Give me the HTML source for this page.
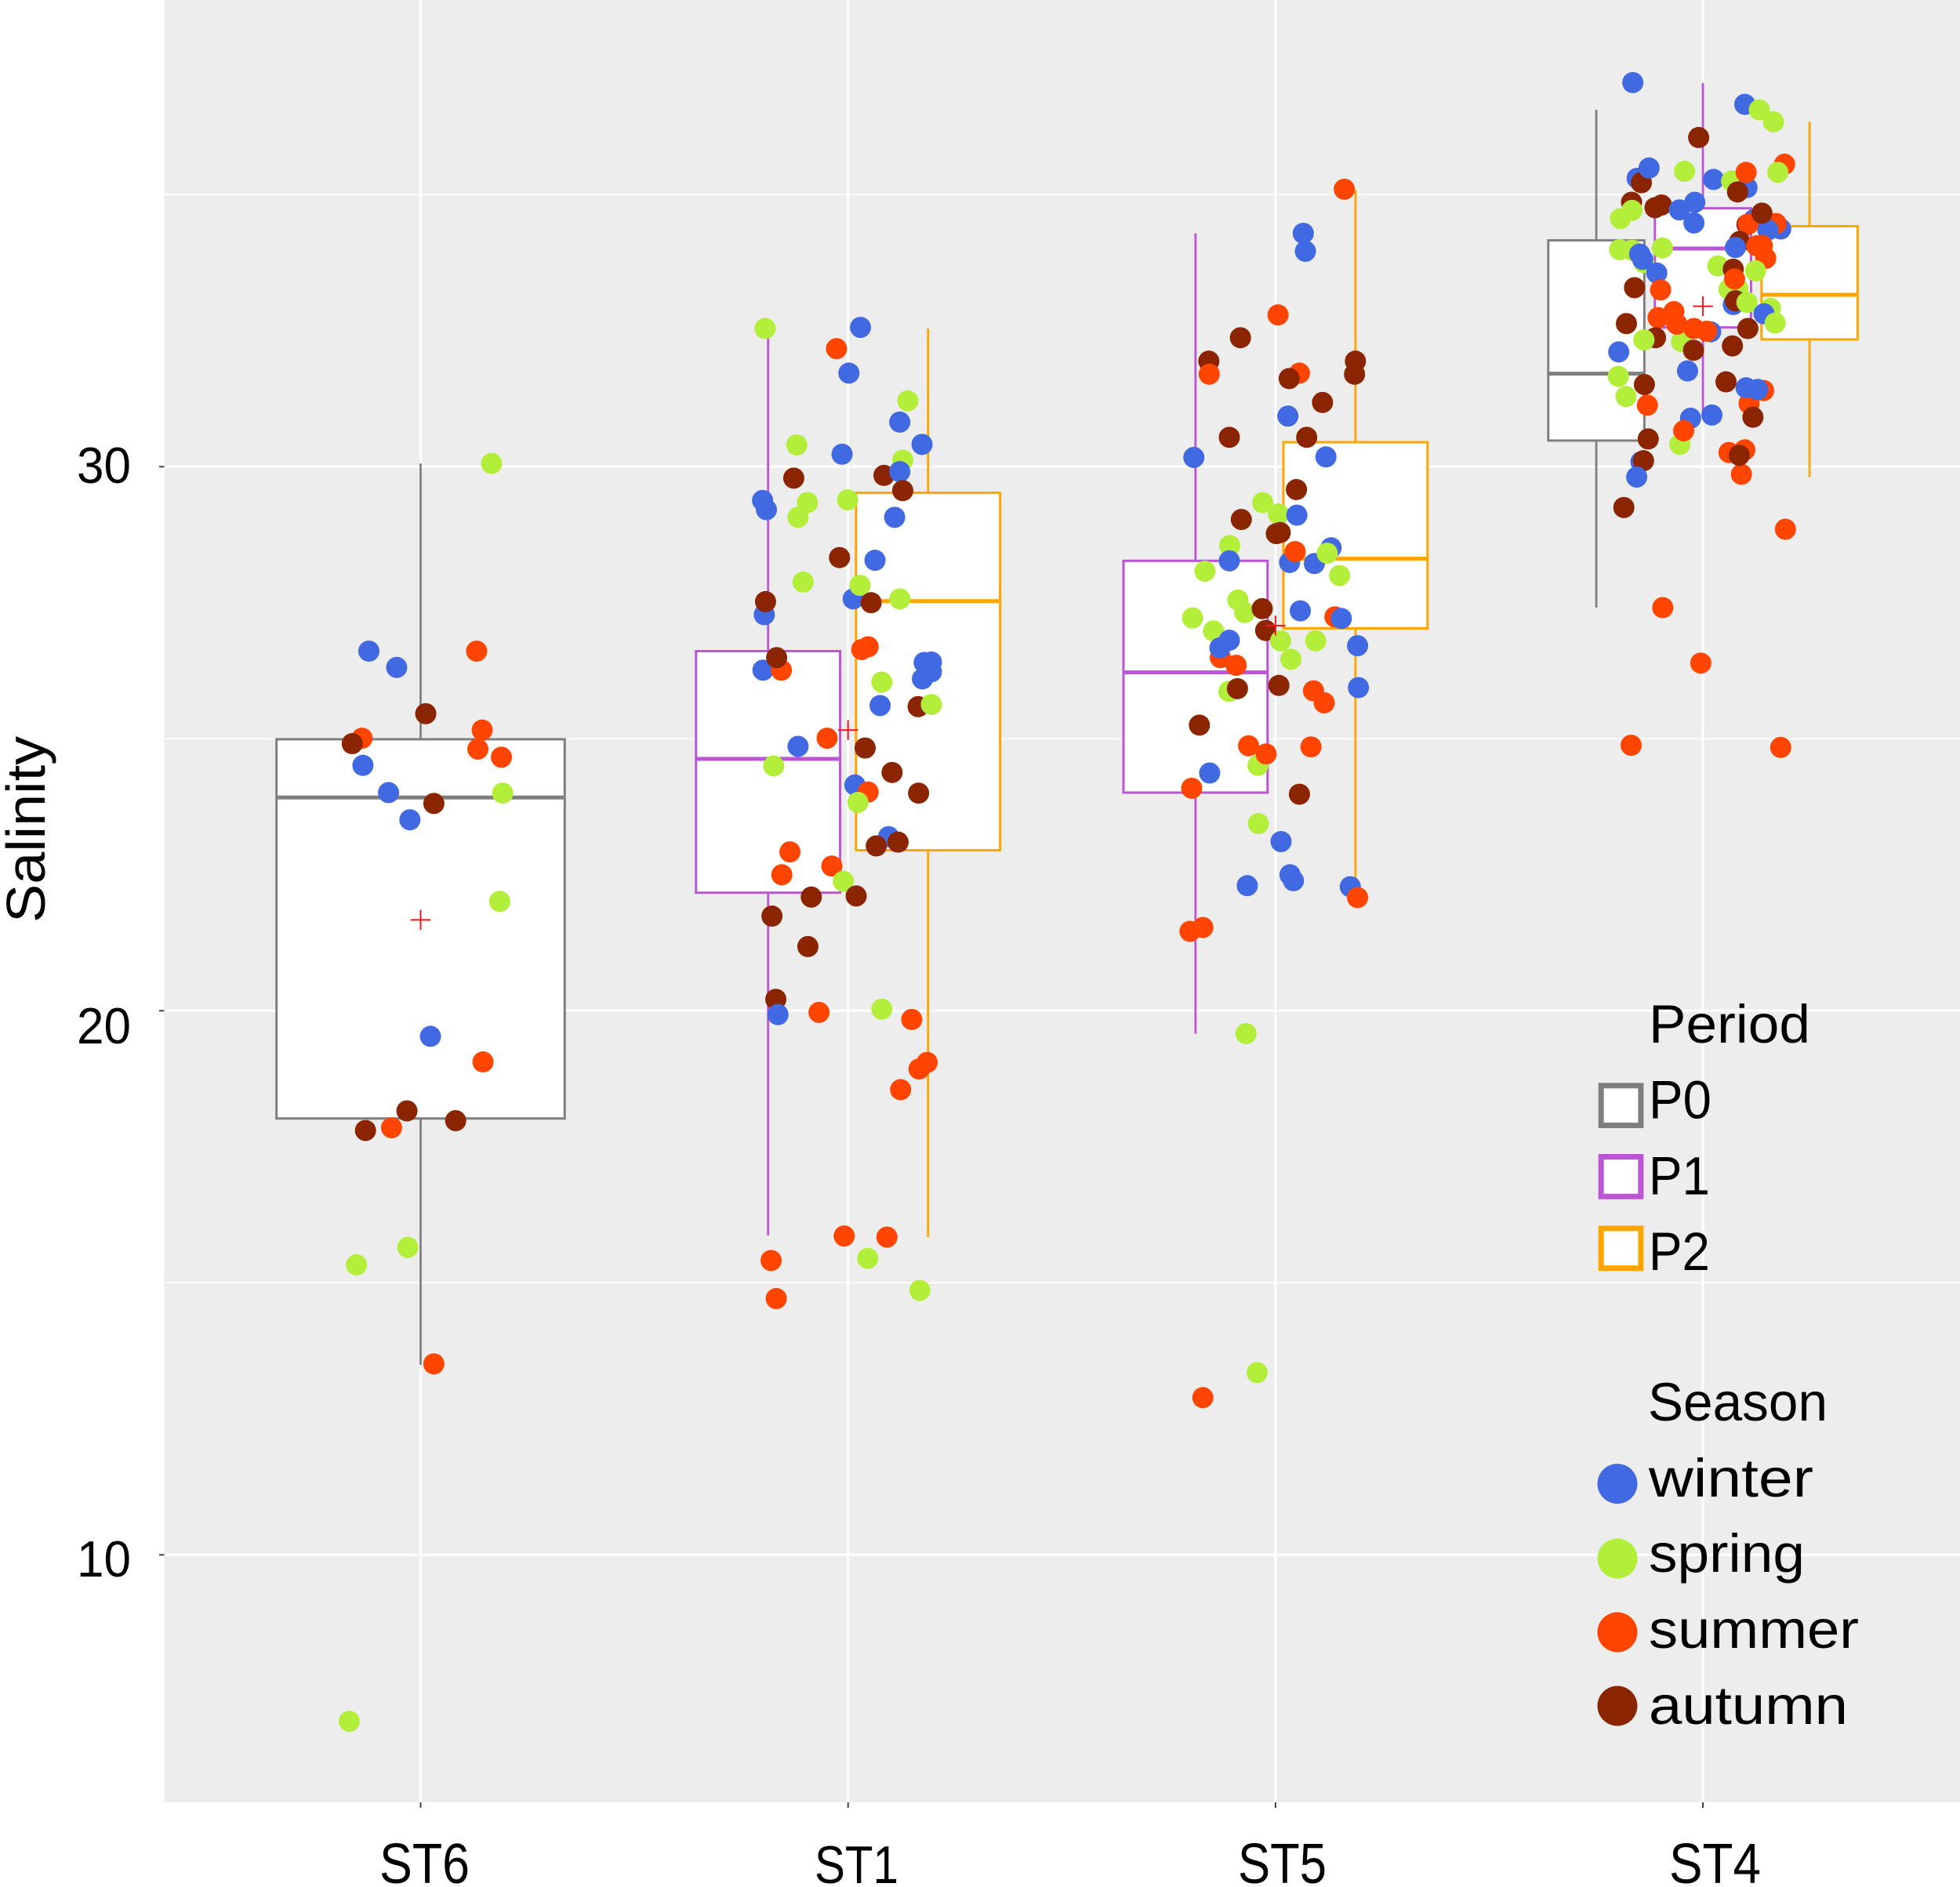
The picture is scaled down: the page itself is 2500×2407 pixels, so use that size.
<!DOCTYPE html>
<html lang="en">
<head>
<meta charset="utf-8">
<title>Salinity by station, period and season</title>
<style>
html,body{margin:0;padding:0;background:#fff;}
svg{display:block;}
text{font-family:"Liberation Sans",sans-serif;fill:#000;}
</style>
</head>
<body>
<svg id="chart" xmlns="http://www.w3.org/2000/svg" width="2500" height="2407" viewBox="0 0 2500 2407">
  <rect x="209.5" y="0" width="2290.5" height="2299" fill="#ededed"/>
  <g id="grid"></g>
  <g id="ticks"></g>
  <g id="boxes"></g>
  <g id="points"></g>
  <g id="means"></g>

  <text transform="translate(57 1058) rotate(-90)" text-anchor="middle" font-size="70" textLength="238" lengthAdjust="spacingAndGlyphs">Salinity</text>
  <text x="98" y="616" font-size="65" textLength="69" lengthAdjust="spacingAndGlyphs">30</text>
  <text x="98" y="1331" font-size="65" textLength="69" lengthAdjust="spacingAndGlyphs">20</text>
  <text x="98" y="2011" font-size="65" textLength="69" lengthAdjust="spacingAndGlyphs">10</text>
  <text x="484" y="2402" font-size="72" textLength="115" lengthAdjust="spacingAndGlyphs">ST6</text>
  <text x="1039" y="2402" font-size="68" textLength="107" lengthAdjust="spacingAndGlyphs">ST1</text>
  <text x="1579" y="2402" font-size="72" textLength="113" lengthAdjust="spacingAndGlyphs">ST5</text>
  <text x="2129" y="2402" font-size="72" textLength="117" lengthAdjust="spacingAndGlyphs">ST4</text>

  <g>
    <text x="2103" y="1330" font-size="69" textLength="206" lengthAdjust="spacingAndGlyphs">Period</text>
    <rect x="2042.2" y="1384.8" width="50.7" height="50.7" fill="#fff" stroke="#7f7f7f" stroke-width="7"/>
    <text x="2103" y="1426.7" font-size="69" textLength="80" lengthAdjust="spacingAndGlyphs">P0</text>
    <rect x="2042.2" y="1475.5" width="50.7" height="50.7" fill="#fff" stroke="#ba55d3" stroke-width="7"/>
    <text x="2103" y="1523.3" font-size="69" textLength="78" lengthAdjust="spacingAndGlyphs">P1</text>
    <rect x="2042.2" y="1566.9" width="50.7" height="50.7" fill="#fff" stroke="#ffa500" stroke-width="7"/>
    <text x="2103" y="1620" font-size="69" textLength="78" lengthAdjust="spacingAndGlyphs">P2</text>
  </g>

  <g>
    <text x="2102" y="1812" font-size="69" textLength="229" lengthAdjust="spacingAndGlyphs">Season</text>
    <circle cx="2063" cy="1892.6" r="25.5" fill="#4169e1"/>
    <text x="2103" y="1909" font-size="69" textLength="210" lengthAdjust="spacingAndGlyphs">winter</text>
    <circle cx="2063" cy="1988" r="25.5" fill="#b3ee3a"/>
    <text x="2103" y="2005" font-size="69" textLength="199" lengthAdjust="spacingAndGlyphs">spring</text>
    <circle cx="2063" cy="2082" r="25.5" fill="#ff4500"/>
    <text x="2103" y="2102" font-size="69" textLength="268" lengthAdjust="spacingAndGlyphs">summer</text>
    <circle cx="2063" cy="2176" r="25.5" fill="#8b2500"/>
    <text x="2103" y="2199" font-size="69" textLength="254" lengthAdjust="spacingAndGlyphs">autumn</text>
  </g>
</svg>

<script>
// Categories and axis ticks
const stations = ['ST6', 'ST1', 'ST5', 'ST4'];
const yMajorTicks = [10, 20, 30];
const yMinorTicks = [15, 25, 35];
const seasonNames = { w: 'winter', s: 'spring', u: 'summer', a: 'autumn' };

// Box statistics: [station index, whisker low, Q1, median, Q3, whisker high]
const p0Stats = [[0, 13.49, 18.02, 23.92, 24.99, 30.06], [3, 27.41, 30.48, 31.71, 34.16, 36.56]];
const p1Stats = [[1, 15.87, 22.17, 24.63, 26.61, 32.54], [2, 19.58, 24.01, 26.22, 28.27, 34.29], [3, 30.93, 32.56, 34.01, 34.75, 37.05]];
const p2Stats = [[1, 15.84, 22.95, 27.53, 29.52, 32.54], [2, 22.08, 27.03, 28.31, 30.45, 35.09], [3, 29.81, 32.34, 33.16, 34.42, 36.34]];

// Station means
const meanValues = [21.67, 25.16, 27.08, 32.95];

// Observations: [season, jitter in station widths, salinity]
const st6Points = [
['s',0.166,30.06],['w',-0.121,26.61],['w',-0.056,26.31],['u',0.131,26.61],['a',0.012,25.46],['u',0.144,25.16],
['u',0.134,24.81],['u',0.189,24.66],['u',-0.137,25.01],['a',-0.160,24.91],['w',-0.135,24.51],['w',-0.075,24.01],
['s',0.192,24.00],['w',-0.025,23.51],['a',0.031,23.81],['s',0.185,22.01],['w',0.023,19.53],['u',0.146,19.06],
['u',-0.068,17.85],['a',-0.032,18.16],['a',0.082,17.98],['a',-0.129,17.80],['s',-0.030,15.65],['s',-0.150,15.33],
['u',0.031,13.51],['s',-0.167,6.94]];

const st1Points = [
['s',-0.194,32.54],['w',0.029,32.56],['u',-0.027,32.17],['w',0.002,31.72],['s',0.140,31.21],['w',0.121,30.82],
['w',0.173,30.41],['s',-0.120,30.40],['w',-0.014,30.23],['s',0.128,30.12],['a',-0.127,29.79],['a',0.084,29.84],
['w',0.121,29.91],['a',0.128,29.56],['w',-0.200,29.38],['w',-0.191,29.21],['s',-0.095,29.34],['s',-0.117,29.07],
['s',-0.001,29.39],['w',0.109,29.07],['a',-0.020,28.33],['w',0.063,28.28],['s',-0.105,27.88],['w',0.012,27.57],
['s',0.028,27.82],['a',0.054,27.50],['s',0.121,27.57],['w',-0.196,27.28],['a',-0.193,27.52],['u',0.047,26.69],
['u',0.032,26.64],['w',-0.199,26.26],['u',-0.156,26.26],['a',-0.167,26.49],['w',0.178,26.40],['w',0.195,26.41],
['w',0.195,26.23],['w',0.174,26.10],['s',0.079,26.04],['w',0.075,25.61],['a',0.164,25.59],['s',0.195,25.63],
['u',-0.049,25.01],['w',-0.117,24.86],['a',0.040,24.83],['s',-0.174,24.50],['a',0.103,24.38],['w',0.016,24.15],
['u',0.047,24.02],['s',0.023,23.83],['a',0.165,24.00],['w',0.095,23.20],['a',0.066,23.03],['a',0.117,23.10],
['u',-0.136,22.92],['u',-0.155,22.50],['u',-0.038,22.66],['s',-0.011,22.38],['a',-0.086,22.09],['a',0.019,22.11],
['a',-0.178,21.74],['a',-0.094,21.18],['a',-0.169,20.21],['w',-0.164,19.93],['u',-0.068,19.97],['s',0.079,20.03],
['u',0.149,19.84],['u',0.166,18.93],['u',0.185,19.05],['u',0.123,18.55],['u',-0.009,15.86],['u',0.091,15.84],
['s',0.046,15.45],['u',-0.180,15.41],['u',-0.168,14.71],['s',0.168,14.86]];

const st5Points = [
['u',0.161,35.10],['w',0.065,34.29],['w',0.070,33.96],['u',0.006,32.79],['a',-0.082,32.37],['a',-0.156,31.94],
['u',-0.155,31.70],['u',0.056,31.72],['a',0.032,31.62],['a',0.187,31.94],['a',0.185,31.70],['a',0.110,31.18],
['w',0.029,30.93],['a',-0.108,30.54],['a',0.073,30.54],['w',0.118,30.18],['w',-0.191,30.17],['a',0.049,29.58],
['s',-0.030,29.34],['s',0.007,29.13],['w',0.050,29.11],['a',-0.080,29.03],['a',0.011,28.79],['a',0.002,28.77],
['s',-0.107,28.55],['w',-0.108,28.27],['w',0.033,28.24],['w',0.091,28.22],['w',0.130,28.51],['s',0.121,28.41],
['u',0.046,28.44],['s',0.150,28.00],['s',-0.165,28.08],['s',-0.088,27.55],['s',-0.072,27.32],['a',-0.031,27.39],
['w',0.058,27.35],['s',-0.194,27.22],['u',0.139,27.24],['w',0.154,27.21],['a',-0.023,26.99],['s',-0.145,26.98],
['s',0.012,26.80],['s',0.094,26.80],['w',0.192,26.71],['u',-0.129,26.49],['w',-0.108,26.81],['w',-0.130,26.67],
['u',-0.092,26.35],['s',0.036,26.46],['s',-0.109,25.87],['a',-0.089,25.92],['a',0.008,25.98],['u',0.089,25.88],
['u',0.114,25.66],['w',0.194,25.94],['a',-0.178,25.25],['s',-0.041,24.51],['u',-0.063,24.87],['u',-0.022,24.72],
['u',0.083,24.85],['w',-0.154,24.37],['u',-0.196,24.09],['a',0.056,23.98],['s',-0.040,23.44],['w',0.013,23.11],
['w',0.034,22.50],['w',0.042,22.39],['w',-0.066,22.30],['w',0.175,22.28],['u',0.192,22.08],['u',-0.170,21.53],
['u',-0.200,21.46],['s',-0.069,19.58],['s',-0.043,13.35],['u',-0.170,12.89]];

const st4Points = [
['w',-0.164,37.06],['w',0.098,36.66],['s',0.132,36.56],['s',0.165,36.34],['a',-0.010,36.05],['u',0.191,35.56],
['s',0.175,35.41],['w',-0.154,35.30],['a',-0.144,35.22],['w',-0.126,35.49],['s',-0.043,35.43],['w',0.025,35.28],
['s',0.067,35.25],['w',0.103,35.13],['u',0.101,35.41],['a',0.081,35.05],['a',-0.167,34.86],['s',-0.166,34.71],
['s',-0.193,34.56],['a',-0.112,34.76],['a',-0.097,34.81],['w',-0.055,34.72],['w',-0.019,34.86],['w',-0.021,34.48],
['w',0.182,34.37],['a',0.103,34.45],['u',0.171,34.47],['w',0.119,34.54],['u',0.106,34.46],['w',0.152,34.35],
['a',0.138,34.66],['a',0.086,34.14],['u',0.139,34.06],['w',0.076,34.03],['u',0.126,34.06],['u',0.147,33.83],
['s',-0.195,33.99],['s',-0.166,33.98],['s',-0.138,33.75],['w',-0.148,33.91],['w',-0.141,33.81],['s',-0.095,34.02],
['w',-0.108,33.56],['s',0.035,33.69],['s',0.061,33.26],['s',0.082,33.27],['a',0.071,33.63],['s',0.123,33.60],
['u',0.074,33.45],['a',-0.160,33.29],['u',-0.099,33.25],['w',0.071,32.98],['a',0.076,33.05],['s',0.103,33.02],
['s',0.158,32.91],['w',0.143,32.81],['s',0.169,32.64],['s',-0.050,32.30],['u',-0.105,32.74],['u',-0.068,32.85],
['u',-0.061,32.62],['w',0.018,32.48],['u',-0.021,32.54],['u',0.009,32.49],['a',-0.179,32.63],['a',0.105,32.54],
['a',-0.111,32.37],['s',-0.138,32.33],['a',-0.022,32.14],['a',0.069,32.22],['w',-0.197,32.11],['w',-0.036,31.76],
['s',-0.198,31.66],['a',-0.137,31.51],['s',-0.180,31.29],['u',-0.130,31.13],['a',0.054,31.56],['u',0.142,31.40],
['u',0.108,31.16],['w',0.101,31.45],['w',0.128,31.42],['a',0.117,30.91],['w',-0.029,30.89],['w',0.021,30.95],
['s',-0.054,30.41],['u',-0.045,30.66],['a',-0.128,30.51],['w',-0.145,30.09],['a',-0.139,30.11],['w',-0.155,29.81],
['u',0.061,30.26],['u',0.098,30.31],['u',0.090,29.86],['a',0.085,30.21],['a',-0.185,29.25],['u',0.193,28.85],
['u',-0.094,27.41],['u',-0.005,26.39],['u',-0.168,24.88],['u',0.182,24.84]];

const SVG_NS = 'http://www.w3.org/2000/svg';
const seasonColors = { w: '#4169e1', s: '#b3ee3a', u: '#ff4500', a: '#8b2500' };
const periodColors = { P0: '#7f7f7f', P1: '#ba55d3', P2: '#ffa500' };

function xScale(stationIndex) { return 536.5 + 545.2 * stationIndex; }
function yScale(salinity) { return 1289.3 - (salinity - 20) * 69.4; }

function make(tag, attrs, parent) {
  const el = document.createElementNS(SVG_NS, tag);
  Object.keys(attrs).forEach(function (k) { el.setAttribute(k, attrs[k]); });
  parent.appendChild(el);
  return el;
}

const gridLayer = document.getElementById('grid');
const tickLayer = document.getElementById('ticks');
const boxLayer = document.getElementById('boxes');
const pointLayer = document.getElementById('points');
const meanLayer = document.getElementById('means');

yMinorTicks.forEach(function (t) {
  const el = make('line', { x1: 209.5, x2: 2500, y1: yScale(t), y2: yScale(t), stroke: '#fff', 'stroke-width': 1.7 }, gridLayer);
  
  
});

yMajorTicks.forEach(function (t) {
  const el = make('line', { x1: 209.5, x2: 2500, y1: yScale(t), y2: yScale(t), stroke: '#fff', 'stroke-width': 3 }, gridLayer);
  
  
  const tick = make('line', { x1: 203, x2: 209.5, y1: yScale(t), y2: yScale(t), stroke: '#333', 'stroke-width': 1.8 }, tickLayer);
  
  
});

stations.forEach(function (name, i) {
  const el = make('line', { x1: xScale(i), x2: xScale(i), y1: 0, y2: 2299, stroke: '#fff', 'stroke-width': 3 }, gridLayer);
  
  
  const tick = make('line', { x1: xScale(i), x2: xScale(i), y1: 2299, y2: 2306, stroke: '#333', 'stroke-width': 1.8 }, tickLayer);
  
  
});

const periodSeries = [['P0', p0Stats], ['P1', p1Stats], ['P2', p2Stats]];

function periodsAt(stationIndex) {
  return periodSeries.filter(function (p) {
    return p[1].some(function (row) { return row[0] === stationIndex; });
  }).map(function (p) { return p[0]; });
}

periodSeries.forEach(function (series) {
  const period = series[0];
  const color = periodColors[period];
  series[1].forEach(function (row) {
    const st = row[0];
    const present = periodsAt(st);
    const slot = present.indexOf(period);
    const boxW = 367.6 / present.length;
    const cx = xScale(st) + (slot - (present.length - 1) / 2) * boxW * 1.11;
    const label = period.toLowerCase() + '-' + stations[st].toLowerCase();

    const group = make('g', {}, boxLayer);
    
    

    const whisker = make('line', { x1: cx, x2: cx, y1: yScale(row[5]), y2: yScale(row[1]), stroke: color, 'stroke-width': 2.8 }, group);
    
    

    const rect = make('rect', { x: cx - boxW / 2, y: yScale(row[4]), width: boxW, height: yScale(row[2]) - yScale(row[4]), fill: '#fff', stroke: color, 'stroke-width': 3 }, group);
    
    

    const median = make('line', { x1: cx - boxW / 2, x2: cx + boxW / 2, y1: yScale(row[3]), y2: yScale(row[3]), stroke: color, 'stroke-width': 5 }, group);
    
    
  });
});

[st6Points, st1Points, st5Points, st4Points].forEach(function (list, st) {
  list.forEach(function (p, n) {
    const c = make('circle', { cx: xScale(st) + p[1] * 545.2, cy: yScale(p[2]), r: 13.5, fill: seasonColors[p[0]] }, pointLayer);
    
    
  });
});

meanValues.forEach(function (v, i) {
  const x = xScale(i);
  const y = yScale(v);
  const h = make('line', { x1: x - 12.7, x2: x + 12.7, y1: y, y2: y, stroke: '#f5141e', 'stroke-width': 2 }, meanLayer);
  
  
  const w = make('line', { x1: x, x2: x, y1: y - 12.7, y2: y + 12.7, stroke: '#f5141e', 'stroke-width': 2 }, meanLayer);
  
  
});
</script>
</body>
</html>
